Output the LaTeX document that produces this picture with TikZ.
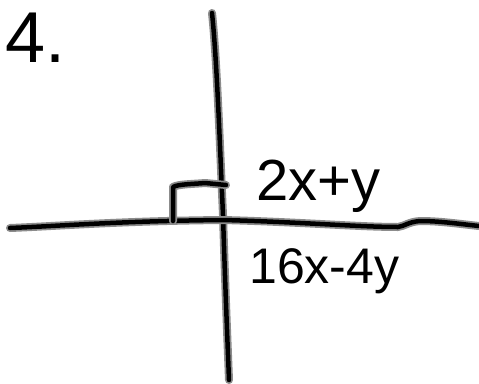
\documentclass[tikz,border=0pt]{standalone}
\usepackage{fontspec}
\setmainfont{Liberation Sans}
\begin{document}
\begin{tikzpicture}[x=1pt,y=-1pt,
  halo/.style={draw=black!45, line width=8pt, line cap=round, line join=round},
  ink/.style={draw=black, line width=4.5pt, line cap=round, line join=round},
  lbl/.style={anchor=base west, inner sep=0pt, text=black}]
\useasboundingbox (0,0) rectangle (479,383);
\fill[white] (0,0) rectangle (479,383);
% vertical axis
\coordinate (vt) at (212,13);
\coordinate (vb) at (229,380);
\foreach \s in {halo,ink}{
  \path[\s] (vt) .. controls (217,60) and (220,150) .. (223,215)
     .. controls (225,280) and (227,330) .. (vb);
}
% horizontal axis
\coordinate (hl) at (10,228);
\coordinate (hr) at (479,226);
\foreach \s in {halo,ink}{
  \path[\s] (hl) .. controls (60,226) and (120,221) .. (223,220)
     .. controls (300,222) and (360,227) .. (398,227)
     .. controls (405,226) and (408,222) .. (420,221)
     .. controls (440,221) and (460,224) .. (hr);
}
% right angle mark
\coordinate (ra) at (173,221);
\coordinate (rc) at (173,187);
\coordinate (rb) at (226,185);
\foreach \s in {halo,ink}{
  \path[\s] (ra) -- (rc) .. controls (178,184) and (195,184) .. (205,183) -- (rb);
}
% labels
\node[lbl, font=\fontsize{72}{72}\selectfont] (num) at (5,62) {4.};
\node[lbl, font=\fontsize{58}{58}\selectfont] (top) at (256,200) {2x+y};
\node[lbl, font=\fontsize{50}{50}\selectfont] (bot) at (249,283) {16x-4y};
\end{tikzpicture}
\end{document}
